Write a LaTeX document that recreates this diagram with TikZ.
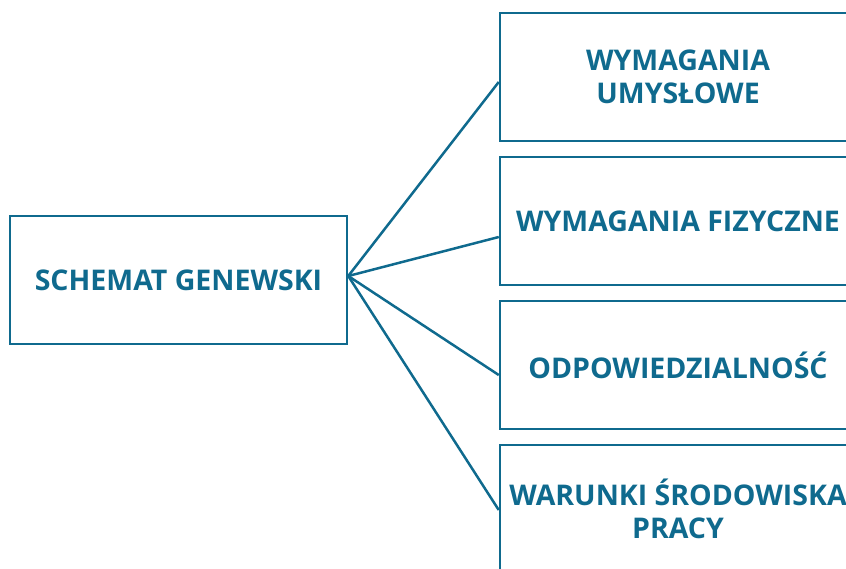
\documentclass[tikz,border=0pt]{standalone}
\usepackage{fontspec}
\setmainfont{Open Sans}
\usetikzlibrary{scopes}
\definecolor{petrol}{HTML}{0F6A8E}
\begin{document}
\begin{tikzpicture}[
    x=1pt,y=-1pt,
    box/.style={rectangle,draw=petrol,line width=2.5pt,minimum width=337pt,minimum height=128pt,
        align=center,text=petrol,font=\bfseries\fontsize{28.5}{33}\selectfont},
    wide/.style={box,minimum width=356pt},
    link/.style={draw=petrol,line width=2.5pt},
]
    \useasboundingbox (0,0) rectangle (846,568);
    \clip (0,0) rectangle (846,568);
    \node[box] (schemat) at (178.5,280) {SCHEMAT GENEWSKI};
    \node[wide] (umysl) at (678,77) {WYMAGANIA\\UMYSŁOWE};
    \node[wide] (fiz) at (678,221) {WYMAGANIA FIZYCZNE};
    \node[wide] (odp) at (678,365) {ODPOWIEDZIALNOŚĆ};
    \node[wide] (war) at (678,509) {WARUNKI ŚRODOWISKA\\PRACY};
    {[link]
        \draw ([yshift=4pt]schemat.east) -- ([yshift=-5pt]umysl.west);
        \draw ([yshift=4pt]schemat.east) -- ([yshift=-16pt]fiz.west);
        \draw ([yshift=4pt]schemat.east) -- ([yshift=-10pt]odp.west);
        \draw ([yshift=4pt]schemat.east) -- ([yshift=-1pt]war.west);
    }
\end{tikzpicture}
\end{document}
